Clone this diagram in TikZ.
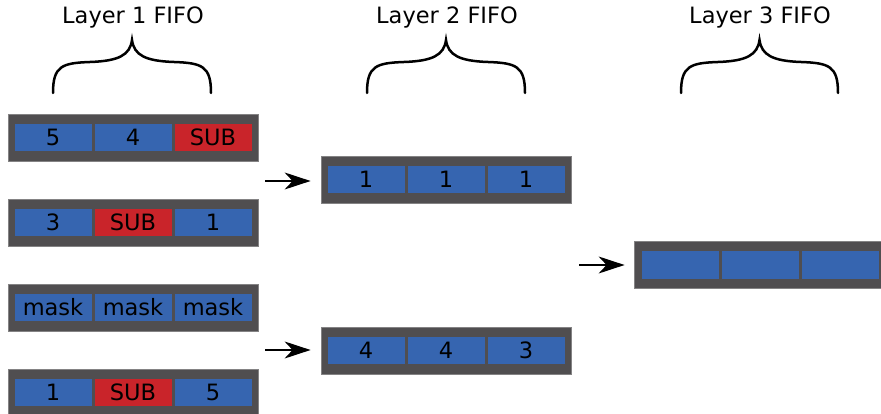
\documentclass[tikz,border=0pt]{standalone}
\usepackage{fontspec}
\setmainfont{DejaVu Sans}
\usetikzlibrary{arrows.meta}
\definecolor{fifogray}{RGB}{80,78,80}
\definecolor{cellblue}{RGB}{54,101,176}
\definecolor{cellred}{RGB}{201,36,42}
\tikzset{
  fifobox/.style={fill=fifogray, draw=fifogray!70!white, line width=0.8pt, minimum width=250pt, minimum height=47pt, inner sep=0pt},
  bluecell/.style={fill=cellblue, minimum width=77pt, minimum height=27pt, inner sep=0pt, font=\fontsize{22.5}{24}\selectfont},
  redcell/.style={bluecell, fill=cellred},
  layertitle/.style={font=\fontsize{22.5}{24}\selectfont},
  brace/.style={line width=2.5pt, line cap=round},
  flow/.style={line width=1.5pt, -{Stealth[length=26pt,width=17pt,inset=8pt]}}
}
\newcommand{\fifostyled}[8]{%
  \node[fifobox] (#1) at (#2) {};
  \node[#3] (#1c1) at ([xshift=-80pt]#1.center) {#4};
  \node[#5] (#1c2) at (#1.center) {#6};
  \node[#7] (#1c3) at ([xshift=80pt]#1.center) {#8};
}
\newcommand{\curlybrace}[3]{% name, left x, right x
  \coordinate (#1tip) at ({(#2+#3)/2},40);
  \draw[brace] (#2,93) .. controls (#2,66) and (#2+9,63) .. ({#2+37},62)
     .. controls ({(#2+#3)/2-13},61) and ({(#2+#3)/2-2},55) .. (#1tip)
     .. controls ({(#2+#3)/2+2},55) and ({(#2+#3)/2+13},61) .. ({#3-37},62)
     .. controls (#3-9,63) and (#3,66) .. (#3,93);
}
\begin{document}
\begin{tikzpicture}[x=1pt,y=-1pt]
\useasboundingbox (0,0) rectangle (881,414);
% titles
\node[layertitle] (t1) at (133,17) {Layer 1 FIFO};
\node[layertitle] (t2) at (447,17) {Layer 2 FIFO};
\node[layertitle] (t3) at (760,17) {Layer 3 FIFO};
\curlybrace{b1}{53}{211}
\curlybrace{b2}{367}{525}
\curlybrace{b3}{681}{838}
% layer 1
\fifostyled{La}{133,137.5}{bluecell}{5}{bluecell}{4}{redcell}{SUB}
\fifostyled{Lb}{133,222.5}{bluecell}{3}{redcell}{SUB}{bluecell}{1}
\fifostyled{Lc}{133,307.5}{bluecell}{mask}{bluecell}{mask}{bluecell}{mask}
\fifostyled{Ld}{133,392.5}{bluecell}{1}{redcell}{SUB}{bluecell}{5}
% layer 2
\fifostyled{Ma}{446,179.5}{bluecell}{1}{bluecell}{1}{bluecell}{1}
\fifostyled{Mb}{446,350.5}{bluecell}{4}{bluecell}{4}{bluecell}{3}
% layer 3
\node[fifobox, minimum width=248pt] (Na) at (758,265) {};
\node[bluecell] (Nac1) at ([xshift=-78pt]Na.center) {};
\node[bluecell] (Nac2) at ([xshift=2pt]Na.center) {};
\node[bluecell] (Nac3) at ([xshift=82pt]Na.center) {};
% arrows
\coordinate (a1) at (265,181);
\coordinate (a2) at (265,350);
\coordinate (a3) at (579,265);
\draw[flow, shorten >=10pt] (a1) -- (a1 -| Ma.west);
\draw[flow, shorten >=10pt] (a2) -- (a2 -| Mb.west);
\draw[flow, shorten >=9pt] (a3) -- (a3 -| Na.west);
\end{tikzpicture}
\end{document}
